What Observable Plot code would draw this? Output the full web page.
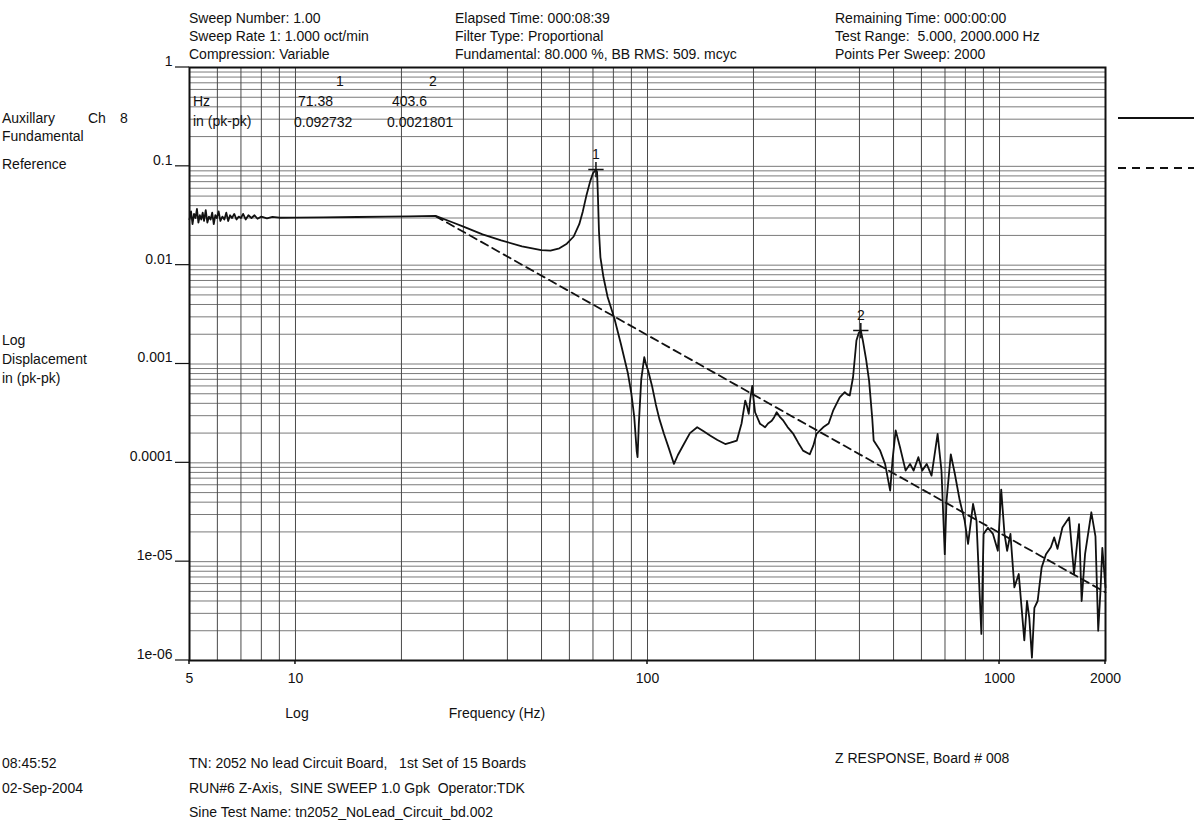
<!DOCTYPE html>
<html><head><meta charset="utf-8">
<script src="https://cdn.jsdelivr.net/npm/d3@7"></script>
<script src="https://cdn.jsdelivr.net/npm/@observablehq/plot@0.6"></script>
<style>
body{margin:0;background:#fff;font-family:"Liberation Sans",Arial,sans-serif;color:#111}
#wrap{position:relative;width:1194px;height:823px;overflow:hidden;background:#fff}
.t{position:absolute;font-size:14px;white-space:pre;line-height:14px;color:#111}
#wrap svg{position:absolute;left:0;top:0}
</style></head><body><div id="wrap"></div>
<script>
// ---- data ----
const respFreq = [5.00,5.05,5.10,5.15,5.20,5.25,5.30,5.35,5.40,5.45,5.50,5.56,5.62,5.68,5.74,5.80,5.86,5.92,5.98,6.05,6.12,6.20,6.28,6.36,6.44,6.52,6.60,6.70,6.80,6.90,7.00,7.10,7.22,7.35,7.50,7.65,7.80,8.0,8.3,8.6,9.0,10,12,15,18,21,25,
 28,30,34,38.4,44,49.9,53,56.2,59,61.7,64,65.5,67,68.7,70,71.38,71.9,72.3,72.8,73.5,75,77,80.5,84,88,90,91.7,93.2,93.7,94.5,96,97.9,99,100.4,103,105.6,108,111.4,115,118.9,122,126.9,132,138.4,144,150.9,158,166.3,172,179.4,185,189.5,191.5,193.9,196,198.4,200,202.1,208.8,215.8,220,225.4,229,232.8,238,243.2,250,259.6,268,276.6,289,296,302,315.5,327,336.7,351.6,363.4,370,375.4,383.6,392.2,398,403.6,409,418,426,435,439,458,473,489,497,507,522,541,557,570,588,603,621,641,667,684,699,707,727,746,771,796,814,841,860,888,901,927,958,989,1011,1033,1051,1074,1102,1134,1176,1197,1215,1236,1256,1283,1317,1355,1399,1430,1461,1509,1577,1628,1682,1711,1750,1823,1873,1907,1935,1959,2000];
const respDisp = [0.029,0.035,0.026,0.033,0.030,0.037,0.027,0.032,0.029,0.034,0.028,0.036,0.027,0.031,0.029,0.034,0.026,0.032,0.030,0.035,0.028,0.031,0.029,0.034,0.028,0.032,0.030,0.033,0.029,0.031,0.030,0.033,0.029,0.032,0.030,0.032,0.0295,0.031,0.0298,0.0308,0.0302,0.0303,0.0305,0.0307,0.031,0.0312,0.0315,
 0.027,0.0245,0.0205,0.0178,0.0155,0.0142,0.014,0.0148,0.0165,0.0195,0.026,0.035,0.05,0.07,0.085,0.0927,0.088,0.05,0.022,0.012,0.0075,0.0048,0.0029,0.0016,0.0008,0.0005,0.00029,0.00013,0.000114,0.00025,0.0007,0.00117,0.001,0.00086,0.0006,0.00039,0.00028,0.000196,0.00014,0.0000975,0.00012,0.000155,0.0002,0.000229,0.00021,0.000188,0.00017,0.000155,0.00016,0.000168,0.00025,0.000426,0.00038,0.000313,0.00045,0.0006,0.00045,0.000325,0.000248,0.000229,0.00025,0.000267,0.00029,0.000325,0.00029,0.000267,0.00023,0.000196,0.00016,0.000133,0.000122,0.00015,0.000196,0.000229,0.00025,0.000337,0.00046,0.000518,0.00049,0.00048,0.000734,0.00173,0.00205,0.00218,0.00173,0.0011,0.00068,0.00028,0.000168,0.000133,0.0000975,0.0000524,0.00011,0.000213,0.000142,0.0000834,0.0000975,0.0000834,0.000114,0.0000834,0.0000975,0.0000742,0.000196,0.0000834,0.0000119,0.0000415,0.000122,0.0000785,0.0000415,0.000026,0.0000151,0.0000384,0.000026,0.00000186,0.0000191,0.000022,0.0000191,0.0000129,0.0000536,0.0000191,0.0000129,0.0000191,0.0000055,0.0000075,0.0000016,0.000004,0.0000027,0.00000107,0.0000034,0.000004,0.0000087,0.0000119,0.000014,0.0000176,0.0000135,0.0000222,0.000028,0.0000075,0.000024,0.000004,0.000012,0.0000316,0.000018,0.000002,0.000005,0.0000138,0.0000055];
const refFreq = [25, 2000];
const refDisp = [0.0313, 0.00000489];
const peakNames = ["1", "2"];
const peakFreq = [71.38, 403.6];
const peakDisp = [0.092732, 0.0021801];
const xTickValues = [5, 10, 100, 1000, 2000];
const xTickLabels = ["5", "10", "100", "1000", "2000"];
const yTickValues = [1, 0.1, 0.01, 0.001, 0.0001, 1e-5, 1e-6];
const yTickLabels = ["1", "0.1", "0.01", "0.001", "0.0001", "1e-05", "1e-06"];
const xGridValues = [6,7,8,9,10,20,30,40,50,60,70,80,90,100,200,300,400,500,600,700,800,900,1000];
const yGridValues = [];
for (let e = -6; e < 0; e++) for (let m = 1; m < 10; m++) yGridValues.push(m * Math.pow(10, e));

// ---- tables for the library ----
const resp = respFreq.map((f, i) => ({f, v: respDisp[i]}));
const ref = refFreq.map((f, i) => ({f, v: refDisp[i]}));
const peaks = peakFreq.map((f, i) => ({f, v: peakDisp[i], name: peakNames[i]}));
const xTicks = xTickValues.map((f, i) => ({f, label: xTickLabels[i]}));
const yTicks = yTickValues.map((v, i) => ({v, label: yTickLabels[i]}));

const chart = Plot.plot({
  width: 1194, height: 823,
  marginLeft: 189, marginRight: 89, marginTop: 67, marginBottom: 163,
  style: {fontFamily: '"Liberation Sans", Arial, sans-serif', fontSize: "14px", background: "transparent", color: "#111", overflow: "visible"},
  x: {type: "log", domain: [5, 2000], axis: null},
  y: {type: "log", domain: [1e-6, 1], axis: null},
  marks: [
    Plot.ruleY(yGridValues, {y: d => d, stroke: "#7a7a7a", strokeWidth: 1}),
    Plot.ruleX(xGridValues, {x: d => d, stroke: "#4a4a4a", strokeWidth: 1}),
    Plot.text(xTicks, {x: "f", text: "label", frameAnchor: "bottom", dy: 22, fontSize: 14, fill: "#111"}),
    Plot.text(yTicks, {y: "v", text: "label", frameAnchor: "left", textAnchor: "end", dx: -17, dy: -6, fontSize: 14, fill: "#111"}),
    Plot.line(ref, {x: "f", y: "v", stroke: "#111", strokeWidth: 1.8, strokeDasharray: "8,5"}),
    Plot.line(resp, {x: "f", y: "v", stroke: "#111", strokeWidth: 1.8, strokeLinejoin: "round"}),
    Plot.dot(peaks, {x: "f", y: "v", symbol: "plus", r: 5, stroke: "#111", strokeWidth: 1.5}),
    Plot.text(peaks, {x: "f", y: "v", text: "name", dy: -15, fontSize: 14, fill: "#111"}),
    Plot.frame({stroke: "#111", strokeWidth: 2})
  ]
});
const wrap = document.getElementById("wrap");
wrap.appendChild(chart);
const ns = "http://www.w3.org/2000/svg";
const svg = chart.tagName.toLowerCase() === "svg" ? chart : chart.querySelector("svg");
function addLine(x1, y1, x2, y2, w, dash) {
  const l = document.createElementNS(ns, "line");
  l.setAttribute("x1", x1); l.setAttribute("x2", x2);
  l.setAttribute("y1", y1); l.setAttribute("y2", y2);
  l.setAttribute("stroke", "#111"); l.setAttribute("stroke-width", w);
  if (dash) l.setAttribute("stroke-dasharray", dash);
  svg.appendChild(l);
}
// axis tick marks positioned through the scales
const xs = chart.scale("x"), ys = chart.scale("y");
const yBottom = ys.apply(1e-6), xLeft = xs.apply(5);
yTickValues.forEach(v => addLine(xLeft - 14, ys.apply(v), xLeft, ys.apply(v), 1.2));
xTickValues.forEach(f => addLine(xs.apply(f), yBottom, xs.apply(f), yBottom + 4, 1.5));
// legend lines at right
addLine(1118, 118, 1194, 118, 1.8);
addLine(1118, 168, 1194, 168, 1.8, "8,6");

function txt(s, x, y, opts = {}) {
  const d = document.createElement("div");
  d.className = "t";
  d.textContent = s;
  d.style.left = x + "px";
  d.style.top = (y - 7) + "px";
  if (opts.center) d.style.transform = "translateX(-50%)";
  wrap.appendChild(d);
}
// header
txt("Sweep Number: 1.00", 189, 18);
txt("Sweep Rate 1: 1.000 oct/min", 189, 36);
txt("Compression: Variable", 189, 54);
txt("Elapsed Time: 000:08:39", 455, 18);
txt("Filter Type: Proportional", 455, 36);
txt("Fundamental: 80.000 %, BB RMS: 509. mcyc", 455, 54);
txt("Remaining Time: 000:00:00", 835, 18);
txt("Test Range:  5.000, 2000.000 Hz", 835, 36);
txt("Points Per Sweep: 2000", 835, 54);
// table
txt("1", 340, 81, {center: true});
txt("2", 433, 81, {center: true});
txt("Hz", 193, 101);
txt("71.38", 298, 101);
txt("403.6", 392, 101);
txt("in (pk-pk)", 193, 121);
txt("0.092732", 294, 122);
txt("0.0021801", 387, 122);
// left labels
txt("Auxillary", 2, 118);
txt("Ch", 88, 118);
txt("8", 120, 118);
txt("Fundamental", 2, 136);
txt("Reference", 2, 164);
txt("Log", 2, 340);
txt("Displacement", 2, 359);
txt("in (pk-pk)", 2, 378);
// axis titles
txt("Log", 297, 713, {center: true});
txt("Frequency (Hz)", 497, 713, {center: true});
// footer
txt("08:45:52", 2, 763);
txt("02-Sep-2004", 2, 788);
txt("TN: 2052 No lead Circuit Board,   1st Set of 15 Boards", 189, 763);
txt("RUN#6 Z-Axis,  SINE SWEEP 1.0 Gpk  Operator:TDK", 189, 788);
txt("Sine Test Name: tn2052_NoLead_Circuit_bd.002", 189, 812);
txt("Z RESPONSE, Board # 008", 835, 758);
</script></body></html>
